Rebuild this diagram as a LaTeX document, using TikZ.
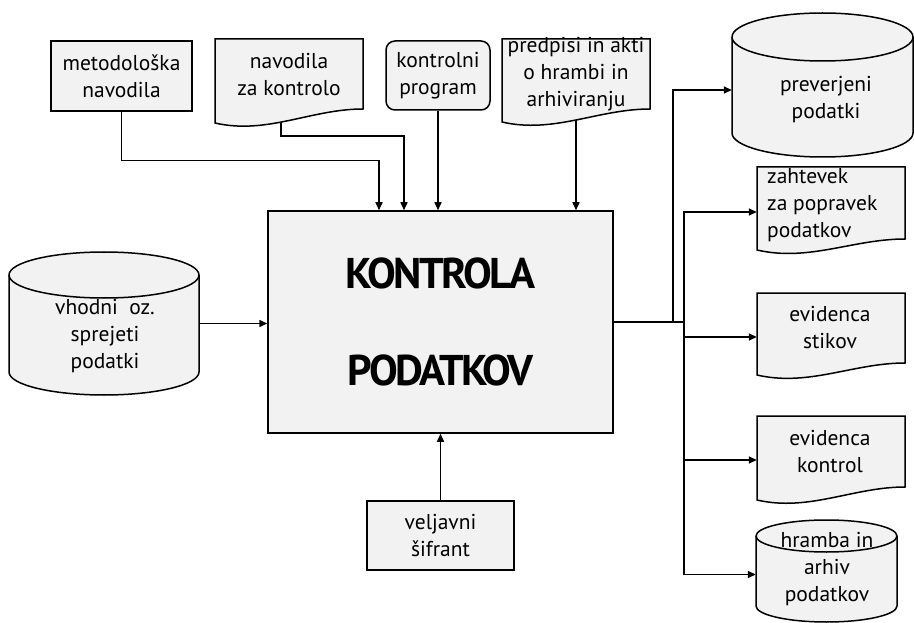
\documentclass[tikz,border=0pt]{standalone}
\usepackage{fontspec}
\setmainfont{PT Sans}
\newfontfamily\titlefont[LetterSpace=-6]{PT Sans}
\usetikzlibrary{arrows.meta,backgrounds}
\definecolor{boxfill}{HTML}{F2F2F2}
\tikzset{
  shp/.style={draw=black, fill=boxfill, line width=1.5pt},
  txt/.style={font=\fontsize{21.5}{27}\selectfont, align=center, inner sep=0pt},
  area/.style={draw=none, inner sep=0pt, rectangle},
  conn/.style={line width=1.5pt},
  arr/.style={conn, -{Triangle[length=8pt,width=7pt]}},
}
% document shape: name, L, T, R, B (right), BL (left bottom)
\newcommand\docshape[6]{%
  \filldraw[shp] (#2,#3) -- (#4,#3) -- (#4,#5)
    .. controls ({#4-0.35*(#4-#2)},#5) and ({#2+0.35*(#4-#2)},{#6+12}) .. (#2,#6) -- cycle;
  \node[area, minimum width={(#4-#2)*1pt}, minimum height={(#5-#3)*1pt}] (#1) at ({(#2+#4)/2},{(#3+#5)/2}) {};
}
% cylinder: name, L, T, R, B (lowest), ry
\newcommand\cylshape[6]{%
  \pgfmathsetmacro\myrx{(#4-#2)/2}%
  \filldraw[shp] (#2,{#3+#6}) -- (#2,{#5-#6})
    arc[start angle=180,end angle=360,x radius={\myrx*1pt},y radius={#6*1pt}]
    -- (#4,{#3+#6})
    arc[start angle=0,end angle=180,x radius={\myrx*1pt},y radius={#6*1pt}] -- cycle;
  \draw[shp, fill=none] (#2,{#3+#6})
    arc[start angle=180,end angle=360,x radius={\myrx*1pt},y radius={#6*1pt}];
  \node[area, minimum width={(#4-#2)*1pt}, minimum height={(#5-#3)*1pt}] (#1) at ({(#2+#4)/2},{(#3+#5)/2}) {};
}
\begin{document}
\begin{tikzpicture}[x=1pt,y=-1pt]
\useasboundingbox (0,0) rectangle (914,623);

% main process
\node[shp, minimum width=345pt, minimum height=222pt, inner sep=0pt,
      font=\titlefont\bfseries\fontsize{43}{97}\selectfont, align=center]
  (main) at (440.5,322) {KONTROLA\\PODATKOV};

% inputs on top
\node[shp, txt, minimum width=141pt, minimum height=70pt] (meto) at (121.5,76) {metodološka\\navodila};
\docshape{nav}{215}{39}{363}{109}{123}
\node[txt] (navt) at (289,75) {navodila\\za kontrolo};
\node[shp, txt, rounded corners=9pt, minimum width=104pt, minimum height=69pt] (kp) at (438,75.5) {kontrolni\\program};
\docshape{pred}{502}{39}{650}{109}{122}
\node[txt] (predt) at (576,74) {predpisi in akti\\o hrambi in\\arhiviranju};

% left input
\cylshape{vh}{9}{252}{199}{395}{23}
\node[txt] (vht) at (105,336) {vhodni\ \ oz.\\sprejeti\\podatki};

% bottom input
\node[shp, txt, minimum width=147pt, minimum height=69pt] (vel) at (440.5,535.5) {veljavni\\šifrant};

% outputs
\cylshape{prev}{732}{13}{913}{157}{24}
\node[txt] (prevt) at (826,100) {preverjeni\\podatki};
\docshape{zah}{757}{167}{905}{239}{250}
\node[txt, align=left, anchor=west] (zaht) at (767,205) {zahtevek\\za popravek\\podatkov};
\docshape{stik}{757}{293}{905}{363}{375}
\node[txt] (stikt) at (830,328) {evidenca\\stikov};
\docshape{kontr}{757}{416}{905}{487}{500}
\node[txt] (kontrt) at (830,452) {evidenca\\kontrol};
\cylshape{hram}{756}{520}{897}{622}{16}
\node[txt] (hramt) at (827,569) {hramba in\\arhiv\\podatkov};

\coordinate (j1) at (673,322);
\coordinate (j2) at (684,322);

\begin{scope}[on background layer]
  \draw[arr] (meto.south) -- ++(0,49) -| ([xshift=-61.5pt]main.north);
  \draw[arr] ([xshift=-8pt]nav.south) -- ++(0,27) -| ([xshift=-36.5pt]main.north);
  \draw[arr] (kp.south) -- (kp.south |- main.north);
  \draw[arr] (pred.south) -- (pred.south |- main.north);
  \draw[arr] (vh.east) -- (vh.east -| main.west);
  \draw[arr] (vel.north) -- (vel.north |- main.south);
  \draw[conn] (main.east) -- (j2);
  \draw[arr] (j1) |- ([yshift=-5pt]prev.west);
  \draw[arr] (j2) |- ([yshift=-9pt]zah.west);
  \draw[arr] (j2) |- ([yshift=-9pt]stik.west);
  \draw[arr] (j2) |- ([yshift=-8.5pt]kontr.west);
  \draw[arr] (j2) |- ([yshift=-3.5pt]hram.west);
\end{scope}
\end{tikzpicture}
\end{document}
